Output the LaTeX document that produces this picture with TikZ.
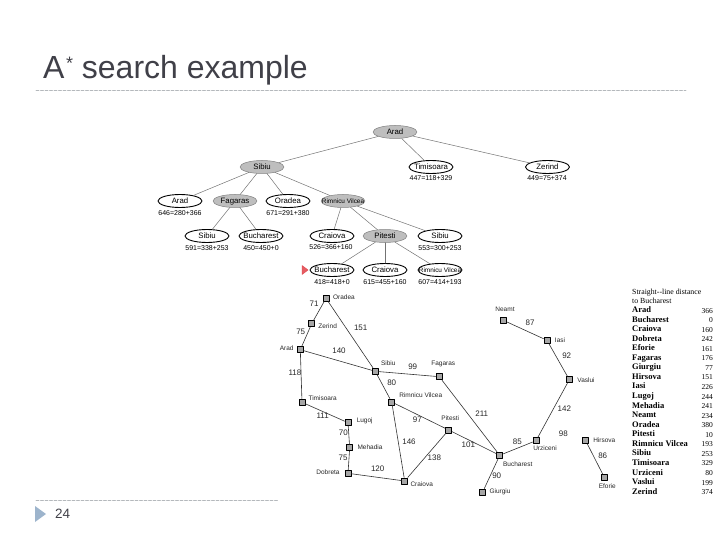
\documentclass[tikz,border=0pt]{standalone}
\usepackage{fontspec}
\setmainfont{Liberation Sans}
\newfontfamily\tablefont{Liberation Serif}
\usetikzlibrary{shapes.geometric}
\definecolor{titlegray}{HTML}{404048}
\definecolor{rulegray}{HTML}{B4B8BC}
\definecolor{markblue}{HTML}{9DB4CC}
\definecolor{markred}{HTML}{E04048}
\definecolor{opengray}{HTML}{BEBEBE}
\newcommand{\rimnicu}{{\fontsize{6.4}{7}\selectfont Rimnicu Vilcea}}
\tikzset{
  treeleaf/.style={ellipse,draw=black,line width=0.9pt,fill=white,minimum width=44pt,minimum height=13pt,inner sep=0pt,text height=5.5pt,text depth=1pt,font=\fontsize{7.8}{9}\selectfont},
  treeopen/.style={treeleaf,draw=gray,line width=0.5pt,fill=opengray},
  treecost/.style={inner sep=0pt,font=\fontsize{7}{8}\selectfont},
  treeedge/.style={line width=0.5pt,draw=black!55},
  city/.style={rectangle,draw=black,line width=1pt,fill=black!35,minimum size=6pt,inner sep=0pt},
  cityname/.style={inner sep=0pt,font=\fontsize{6.5}{8}\selectfont,text=black!85},
  road/.style={line width=0.6pt,draw=black!80},
  roadcost/.style={inner sep=0pt,font=\fontsize{8}{10}\selectfont,text=black!85},
  dashrule/.style={line width=0.6pt,draw=rulegray,dash pattern=on 3pt off 1.5pt},
}
\begin{document}
\begin{tikzpicture}[x=1pt,y=-1pt,line cap=round,line join=round]
  \useasboundingbox (0,0) rectangle (720,540);
  % title and footer
  \node[anchor=base west,inner sep=0pt,text=titlegray,font=\fontsize{32}{36}\selectfont] (title) at (43,79) {A\kern1.5pt\raisebox{9pt}{\fontsize{18}{20}\selectfont *} search example};
  \coordinate (topl) at (36,90.5);
  \coordinate (topr) at (686,90.5);
  \coordinate (botl) at (36,500);
  \coordinate (botr) at (278,500);
  \draw[dashrule] (topl) -- (topr);
  \draw[dashrule] (botl) -- (botr);
  \fill[markblue] (35,506) -- (46,514) -- (35,522) -- cycle;
  \node[anchor=base west,inner sep=0pt,text=titlegray,font=\fontsize{13.5}{16}\selectfont] (page) at (55,518) {24};
  % search tree
  \foreach \id/\px/\py/\txt in {a/395/132/Arad,b/262/167/Sibiu,f/235/201/Fagaras,g/343/201/\rimnicu,k/385/236/Pitesti} {
    \node[treeopen] (\id) at (\px,\py) {\makebox[28pt]{\txt}};
  }
  \foreach \id/\px/\py/\txt in {c/431/167/Timisoara,d/547.5/167/Zerind,e/180/201/Arad,h/288/201/Oradea,i/207/236/Sibiu,j/261/236/Bucharest,l/332/236/Craiova,m/440/236/Sibiu,n/332/270/Bucharest,o/385/270/Craiova,p/440/270/\rimnicu} {
    \node[treeleaf] (\id) at (\px,\py) {\makebox[28pt]{\txt}};
  }
  \foreach \id/\px/\py/\txt in {ec/180/213/646=280+366,hc/288/213/671=291+380,ic/207/248/591=338+253,jc/261/248/450=450+0,lc/331/247.5/526=366+160,mc/440/248/553=300+253,nc/332/282/418=418+0,oc/385/282/615=455+160,pc/440/282/607=414+193,cc/431/178/447=118+329,dc/547/178/449=75+374} {
    \node[treecost] (\id) at (\px,\py) {\txt};
  }
  \foreach \u/\v in {a/b,a/c,a/d,b/e,b/f,b/h,b/g,f/i,f/j,g/l,g/k,g/m,k/n,k/o,k/p} {
    \draw[treeedge] (\u) -- (\v);
  }
  \fill[markred!85,draw=markred] (302,265.5) -- (308,270) -- (302,274.5) -- cycle;
  % road map
  \foreach \id/\px/\py in {ora/326/298.3,zer/311.7/323.7,ara/300.3/349.7,tim/302/402.3,lug/348/422.7,meh/349.7/447.7,dob/348/473.3,cra/404.7/481,sib/375.3/371.3,rim/391.7/402,fag/439.3/376.7,pit/448.7/430,buc/499.7/455.3,giu/482.7/492,urz/536/440.7,vas/569.3/379.7,ias/547/340.3,nea/503.3/320.3,hir/585.7/440.7,efo/604.3/477.3} {
    \node[city] (\id) at (\px,\py) {};
  }
  \foreach \u/\v in {ora/zer,zer/ara,ora/sib,ara/sib,ara/tim,tim/lug,lug/meh,meh/dob,dob/cra,sib/fag,sib/rim,rim/cra,rim/pit,cra/pit,fag/buc,pit/buc,buc/giu,buc/urz,urz/vas,vas/ias,ias/nea,hir/efo} {
    \draw[road] (\u) -- (\v);
  }
  \foreach \id/\px/\py/\txt in {orat/344/297.3/Oradea,zert/327.7/326.3/Zerind,arat/286.7/348.3/Arad,timt/322.7/398/Timisoara,lugt/364.7/421/Lugoj,meht/370/447/Mehadia,dobt/328/472.3/Dobreta,crat/421.7/484.3/Craiova,sibt/388.3/363.3/Sibiu,rimt/420.7/394.7/Rimnicu Vilcea,fagt/443.3/364.3/Fagaras,pitt/450.3/418.3/Pitesti,buct/517.7/463.7/Bucharest,giut/500/491.7/Giurgiu,urzt/545/447.7/Urziceni,vast/586/379.7/Vaslui,iast/560/340/Iasi,neat/505/309.7/Neamt,hirt/604.3/440/Hirsova,efot/607.3/486/Eforie} {
    \node[cityname] (\id) at (\px,\py) {\txt};
  }
  \foreach \id/\px/\py/\txt in {r1/314/304/71,r2/300.7/331.3/75,r3/360.7/327.7/151,r4/339/350.7/140,r5/295/373/118,r6/412.7/366.7/99,r7/391.7/382.7/80,r8/322.7/415.7/111,r9/343.3/432.7/70,r10/343/457.3/75,r11/377.7/468.3/120,r12/409/442/146,r13/417.3/420/97,r14/434.3/458/138,r15/468.3/444.3/101,r16/481.7/413.3/211,r17/496.7/476/90,r18/517.3/441.3/85,r19/564.3/408.3/142,r20/563.3/433.3/98,r21/566.7/355.7/92,r22/530/322.3/87,r23/602.7/455.3/86} {
    \node[roadcost] (\id) at (\px,\py) {\txt};
  }
  % distance table
  \node[anchor=base west,inner sep=0pt,font=\tablefont\fontsize{7.8}{9}\selectfont] (head1) at (632,294.5) {Straight--line distance};
  \node[anchor=base west,inner sep=0pt,font=\tablefont\fontsize{7.8}{9}\selectfont] (head2) at (632,303) {to Bucharest};
  \foreach \n/\txt/\val in {0/Arad/366,1/Bucharest/0,2/Craiova/160,3/Dobreta/242,4/Eforie/161,5/Fagaras/176,6/Giurgiu/77,7/Hirsova/151,8/Iasi/226,9/Lugoj/244,10/Mehadia/241,11/Neamt/234,12/Oradea/380,13/Pitesti/10,14/Rimnicu Vilcea/193,15/Sibiu/253,16/Timisoara/329,17/Urziceni/80,18/Vaslui/199,19/Zerind/374} {
    \node[anchor=base west,inner sep=0pt,font=\tablefont\bfseries\fontsize{8.5}{10}\selectfont] (name\n) at (632,{312.5+9.56*\n}) {\txt};
    \node[anchor=base east,inner sep=0pt,font=\tablefont\fontsize{7.5}{9}\selectfont] (val\n) at (713,{313+9.56*\n}) {\val};
  }
\end{tikzpicture}
\end{document}
